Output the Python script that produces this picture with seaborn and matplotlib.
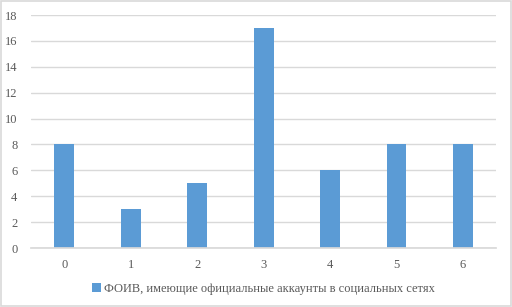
import matplotlib
matplotlib.use("Agg")
import matplotlib.pyplot as plt
import pandas as pd
import seaborn as sns
from matplotlib.patches import Rectangle

CATEGORIES = ["0", "1", "2", "3", "4", "5", "6"]
VALUES = [8, 3, 5, 17, 6, 8, 8]
SERIES = "ФОИВ, имеющие официальные аккаунты в социальных сетях"
Y_TICKS = list(range(0, 19, 2))

BAR_COLOR = "#5B9BD5"
GRID_COLOR = "#D9D9D9"
TEXT_COLOR = "#595959"

df = pd.DataFrame({"cat": CATEGORIES, "value": VALUES, "series": SERIES})

sns.set_theme(style="white")
plt.rcParams["font.family"] = ["Liberation Serif", "DejaVu Serif"]

fig = plt.figure(figsize=(5.12, 3.07), dpi=100)
ax = fig.add_axes([0.061, 0.192, 0.908, 0.759])

sns.barplot(data=df, x="cat", y="value", hue="series", order=CATEGORIES,
            palette=[BAR_COLOR], saturation=1, width=0.3, linewidth=0,
            ax=ax, legend=True)

ax.set_ylim(0, 18)
ax.set_yticks(Y_TICKS)
ax.set_xlim(-0.5, len(CATEGORIES) - 0.5)
ax.yaxis.grid(True, color=GRID_COLOR, linewidth=1)
ax.set_axisbelow(True)
for side in ["left", "right", "top"]:
    ax.spines[side].set_visible(False)
ax.spines["bottom"].set_color(GRID_COLOR)
ax.tick_params(axis="both", length=0, labelsize=9, colors=TEXT_COLOR)
ax.tick_params(axis="x", pad=8)
ax.tick_params(axis="y", pad=10)
ax.set_xlabel("")
ax.set_ylabel("")

ax.legend(loc="upper center", bbox_to_anchor=(0.5, -0.1), frameon=False,
          fontsize=9, labelcolor=TEXT_COLOR, handlelength=0.7, handleheight=0.7,
          handletextpad=0.3)

fig.patches.append(Rectangle((0.002, 0.004), 0.996, 0.992, transform=fig.transFigure,
                             fill=False, edgecolor=GRID_COLOR, linewidth=1.2))

fig.savefig("out.png", dpi=100, facecolor="white")
